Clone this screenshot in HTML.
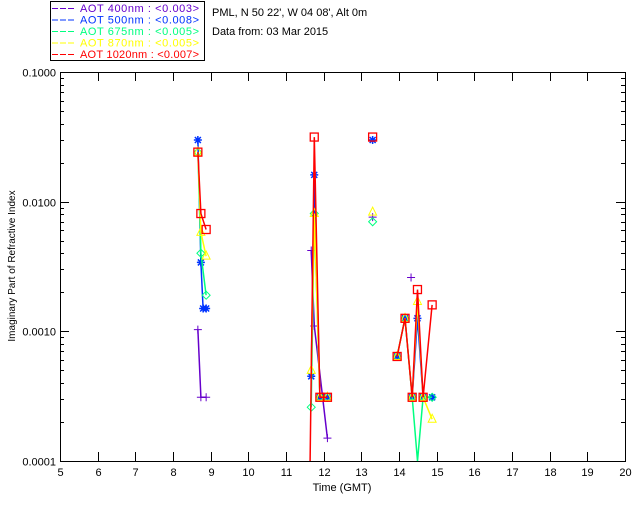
<!DOCTYPE html>
<html><head><meta charset="utf-8"><style>
body{margin:0;background:#fff;}
svg text{font-family:"Liberation Sans",sans-serif;font-size:11px;}
</style></head><body>
<svg id="chart" width="640" height="512" viewBox="0 0 640 512" xmlns="http://www.w3.org/2000/svg">
<rect x="0" y="0" width="640" height="512" fill="#fff"/>
<g id="axes"></g>
<g id="series"></g>
<g>
<rect x="50.5" y="1.5" width="154" height="59" fill="none" stroke="#000"/>
<g id="legend-items"></g>
</g>
<text x="212" y="16" fill="#000">PML, N 50 22', W 04 08', Alt 0m</text>
<text x="212" y="35" fill="#000">Data from: 03 Mar 2015</text>
<text x="342" y="491" text-anchor="middle" fill="#000">Time (GMT)</text>
<text transform="translate(15,266) rotate(-90)" text-anchor="middle" fill="#000" style="font-size:10px">Imaginary Part of Refractive Index</text>
</svg>
<script>
const xTicks=[5,6,7,8,9,10,11,12,13,14,15,16,17,18,19,20];
const yTickLabels=["0.1000","0.0100","0.0010","0.0001"];
const yTickValues=[0.1,0.01,0.001,0.0001];
const seriesNames=["AOT  400nm : <0.003>","AOT  500nm : <0.008>","AOT  675nm : <0.005>","AOT  870nm : <0.005>","AOT 1020nm : <0.007>"];
const seriesColors=["#6600cc","#0033ff","#00ff80","#ffff00","#ff0000"];
const markers=["plus","star","diamond","triangle","square"];
const t400=[8.66,8.74,8.88,11.67,11.75,12.1,13.3,14.32];
const v400=[0.00103,0.00031,0.00031,0.0042,0.0011,0.00015,0.0076,0.0026];
const t500=[8.66,8.74,8.80,8.88,11.67,11.75,11.9,12.1,13.3,13.95,14.16,14.35,14.49,14.64,14.88];
const v500=[0.0299,0.0034,0.0015,0.0015,0.00045,0.0161,0.00031,0.00031,0.0299,0.00064,0.00126,0.00031,0.00126,0.00031,0.00031];
const t675=[8.66,8.74,8.88,11.67,11.75,11.9,12.1,13.3,13.95,14.16,14.35,14.49,14.64,14.88];
const v675=[0.0241,0.0040,0.0019,0.00026,0.0081,0.00031,0.00031,0.0070,0.00064,0.00126,0.00031,0.0001,0.00031,0.00031];
const t870=[8.66,8.74,8.88,11.67,11.75,11.9,12.1,13.3,13.95,14.16,14.35,14.49,14.64,14.88];
const v870=[0.0241,0.0058,0.0038,0.0005,0.0081,0.00031,0.00031,0.0083,0.00064,0.00126,0.00031,0.0017,0.00031,0.00021];
const t1020=[8.66,8.74,8.88,11.64,11.75,11.9,12.1,13.3,13.95,14.16,14.35,14.49,14.64,14.88];
const v1020=[0.0241,0.0081,0.0061,0.0001,0.0315,0.00031,0.00031,0.0315,0.00064,0.00126,0.00031,0.0021,0.00031,0.0016];
const allT=[t400,t500,t675,t870,t1020];
const allV=[v400,v500,v675,v870,v1020];

const X0=60,X1=625,Y0=461,Y1=72;
const xs=t=>X0+(t-5)/(20-5)*(X1-X0);
const ys=v=>Y0-(Math.log10(v)+4)/3*(Y0-Y1);
const NS="http://www.w3.org/2000/svg";
function mk(tag,attrs,parent){const e=document.createElementNS(NS,tag);for(const k in attrs)e.setAttribute(k,attrs[k]);parent.appendChild(e);return e;}
const ax=document.getElementById('axes');
const frame=mk('rect',{x:X0+0.5,y:Y1+0.5,width:X1-X0,height:Y0-Y1,fill:'none',stroke:'#000'},ax);


xTicks.forEach(t=>{
  const x=Math.round(xs(t))+0.5;
  const a=mk('line',{x1:x,x2:x,y1:Y0,y2:Y0-9,stroke:'#000'},ax);
  
  
  mk('line',{x1:x,x2:x,y1:Y1,y2:Y1+9,stroke:'#000'},ax);
  const l=mk('text',{x:x,y:Y0+15,'text-anchor':'middle',fill:'#000'},ax);
  l.textContent=t;
  
  
});
yTickValues.forEach((v,i)=>{
  const y=Math.round(ys(v))+0.5;
  mk('line',{x1:X0,x2:X0+9,y1:y,y2:y,stroke:'#000'},ax);
  mk('line',{x1:X1,x2:X1-9,y1:y,y2:y,stroke:'#000'},ax);
  const l=mk('text',{x:X0-4,y:y+4,'text-anchor':'end',fill:'#000'},ax);
  l.textContent=yTickLabels[i];
  
  
  if(i<3){for(let m=2;m<10;m++){const yy=Math.round(ys(v/10*m))+0.5;
    mk('line',{x1:X0,x2:X0+4,y1:yy,y2:yy,stroke:'#000'},ax);
    mk('line',{x1:X1,x2:X1-4,y1:yy,y2:yy,stroke:'#000'},ax);}}
});
const sg=document.getElementById('series');
function marker(type,x,y,c,g){
  if(type==='plus'){mk('path',{d:`M${x-4} ${y}H${x+4}M${x} ${y-4}V${y+4}`,stroke:c,fill:'none'},g);}
  else if(type==='star'){mk('path',{d:`M${x-4} ${y}H${x+4}M${x} ${y-4}V${y+4}M${x-3} ${y-3}L${x+3} ${y+3}M${x-3} ${y+3}L${x+3} ${y-3}`,stroke:c,fill:'none','stroke-width':1.5},g);}
  else if(type==='diamond'){mk('path',{d:`M${x} ${y-4}L${x+4} ${y}L${x} ${y+4}L${x-4} ${y}Z`,stroke:c,fill:'none'},g);}
  else if(type==='triangle'){mk('path',{d:`M${x} ${y-5}L${x+4} ${y+3}L${x-4} ${y+3}Z`,stroke:c,fill:'none'},g);}
  else {mk('rect',{x:x-4,y:y-4,width:8,height:8,stroke:c,fill:'none','stroke-width':1.3},g);}
}
allT.forEach((T,si)=>{
  const c=seriesColors[si];
  const g=mk('g',{},sg);
  
  
  let d='';
  T.forEach((t,i)=>{
    const x=xs(t),y=ys(allV[si][i]);
    d+=(i===0||t-T[i-1]>0.5?'M':'L')+x.toFixed(1)+' '+y.toFixed(1);
  });
  mk('path',{d:d,stroke:c,fill:'none','stroke-width':1.5},g);
  T.forEach((t,i)=>{const v=allV[si][i];if(v>0.0001)marker(markers[si],xs(t),ys(v),c,g);});
});
const lg=document.getElementById('legend-items');
seriesNames.forEach((n,i)=>{
  const y=12+i*11.5;
  const l=mk('line',{x1:52,x2:74,y1:y-3.5,y2:y-3.5,stroke:seriesColors[i],'stroke-dasharray':'6,2'},lg);
  
  
  const t=mk('text',{x:80,y:y,fill:seriesColors[i],'xml:space':'preserve',textLength:119,lengthAdjust:'spacing'},lg);
  t.textContent=n;
  
  
});
</script>
</body></html>
